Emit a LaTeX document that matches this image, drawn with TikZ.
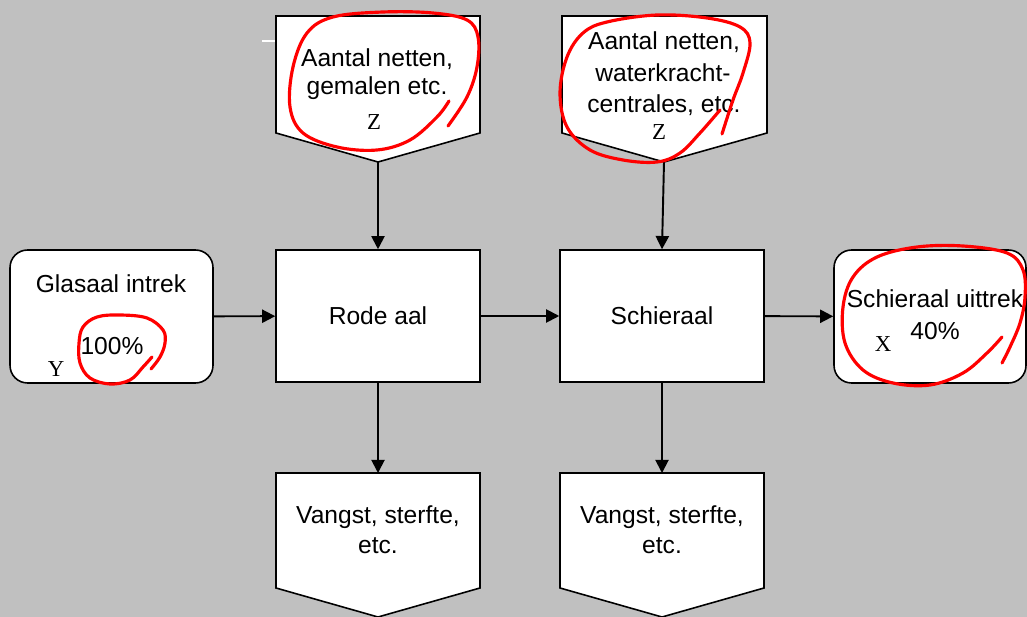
\documentclass[tikz,border=0pt]{standalone}
\usepackage{fontspec}
\setmainfont{Liberation Sans}
\newfontfamily\letterfont{Liberation Serif}
\usetikzlibrary{arrows.meta}
\definecolor{bggray}{RGB}{192,192,192}
\definecolor{penred}{RGB}{255,0,0}
\tikzset{
  box/.style={draw, fill=white, line width=0.9pt, minimum width=4.08cm, minimum height=2.64cm, font=\fontsize{14}{16}\selectfont},
  rbox/.style={box, rounded corners=0.35cm},
  pent/.style={draw, fill=white, line width=0.9pt},
  lbl/.style={anchor=base, inner sep=0pt, font=\fontsize{14}{16}\selectfont},
  letter/.style={anchor=base, inner sep=0pt, font=\letterfont\fontsize{13}{15}\selectfont},
  flow/.style={line width=1.1pt, -{Triangle[length=7.5pt, width=7.5pt]}},
  redloop/.style={penred, line width=1.8pt, line cap=round, line join=round}
}
\begin{document}
\begin{tikzpicture}[x=0.02cm, y=-0.02cm]
  \useasboundingbox (0,0) rectangle (1027,617);
  \fill[bggray] (0,0) rectangle (1027,617);
  \draw[white, line width=0.8pt] (262,41) -- (275,41);

  % inputs on top
  \draw[pent] (276,16) -- (480,16) -- (480,133) -- (378,162) -- (276,133) -- cycle;
  \draw[pent] (562,16) -- (767,16) -- (767,133) -- (664,162) -- (562,133) -- cycle;
  \coordinate (ztip1) at (378,162);
  \coordinate (ztip2) at (664,162);
  \node[lbl] (za1) at (377,67) {Aantal netten,};
  \node[lbl] (za2) at (377,95) {gemalen etc.};
  \node[letter] (zl1) at (374,130) {Z};
  \node[lbl] (zb1) at (664,50) {Aantal netten,};
  \node[lbl] (zb2) at (663,82) {waterkracht-};
  \node[lbl] (zb3) at (664,113) {centrales, etc.};
  \node[letter] (zl2) at (659,140) {Z};

  % main row
  \node[rbox, minimum width=4.06cm, minimum height=2.66cm] (glas) at (111.5,316.5) {};
  \node[box] (rode) at (378,316) {Rode aal};
  \node[box] (schier) at (662,316) {Schieraal};
  \node[rbox, minimum width=3.84cm, minimum height=2.66cm] (uit) at (930,316.5) {};
  \node[lbl] (gl1) at (111,293) {Glasaal intrek};
  \node[lbl] (gl2) at (112,355) {100\%};
  \node[letter] (yl) at (56,377) {Y};
  \node[lbl] (ui1) at (935,308) {Schieraal uittrek};
  \node[lbl] (ui2) at (935,340) {40\%};
  \node[letter] (xl) at (883,352) {X};

  % outputs below
  \draw[pent] (276,473) -- (480,473) -- (480,588) -- (378,617) -- (276,588) -- cycle;
  \draw[pent] (560,473) -- (764,473) -- (764,588) -- (662,617) -- (560,588) -- cycle;
  \coordinate (vtop1) at (378,473);
  \coordinate (vtop2) at (662,473);
  \node[lbl] (va1) at (378,523) {Vangst, sterfte,};
  \node[lbl] (va2) at (378,554) {etc.};
  \node[lbl] (vb1) at (662,523) {Vangst, sterfte,};
  \node[lbl] (vb2) at (662,554) {etc.};

  \draw[flow] (glas) -- (rode);
  \draw[flow] (rode) -- (schier);
  \draw[flow] (schier) -- (uit);
  \draw[flow] (ztip1) -- (rode.north);
  \draw[flow] (ztip2) -- (schier.north);
  \draw[flow] (rode.south) -- (vtop1);
  \draw[flow] (schier.south) -- (vtop2);

  % red marks
  \draw[redloop] plot[smooth, tension=0.6] coordinates {(449,101) (437,117) (410,140) (377,150) (337,147) (303,133) (290,107) (293,67) (307,33) (333,17) (383,12) (433,13) (467,20) (478,37) (477,67) (467,97) (448,126)};
  \draw[redloop] plot[smooth, tension=0.6] coordinates {(720,110) (700,133) (680,153) (657,162) (623,160) (590,150) (567,127) (560,93) (567,57) (583,33) (607,22) (657,15) (707,18) (740,27) (750,43) (743,73) (733,100) (722,134)};
  \draw[redloop] plot[smooth, tension=0.6] coordinates {(152,357) (143,367) (130,380) (110,384) (90,378) (80,363) (79,343) (83,327) (97,317) (120,315) (147,318) (163,330) (165,343) (160,357) (151,369)};
  \draw[redloop] plot[smooth, tension=0.6] coordinates {(1002,337) (987,353) (963,373) (930,385) (893,383) (863,370) (845,343) (843,307) (853,277) (877,257) (917,247) (963,246) (1007,253) (1023,270) (1025,297) (1020,323) (1010,347) (1002,363)};
\end{tikzpicture}
\end{document}
